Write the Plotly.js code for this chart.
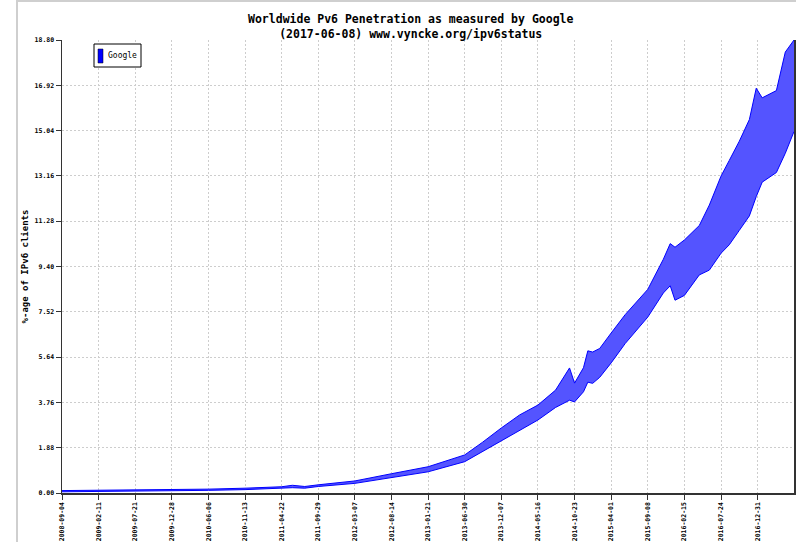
<!DOCTYPE html>
<html>
<head>
<meta charset="utf-8">
<script src="https://cdn.plot.ly/plotly-3.0.1.min.js"></script>
<style>
html,body{margin:0;padding:0;background:#fff;}
#wrap{position:relative;width:796px;height:542px;}
#chart{width:796px;height:542px;}
#frame{position:absolute;left:16px;top:0;width:780px;height:542px;border-left:2px solid #cfcfcf;border-top:2px solid #cfcfcf;pointer-events:none;box-sizing:border-box;}
</style>
</head>
<body>
<div id="wrap"><div id="chart"></div><div id="frame"></div></div>
<script>
const dates = ['2008-09-04','2009-02-11','2009-07-21','2009-12-28','2010-06-06','2010-11-13','2011-04-22','2011-06-08','2011-08-01','2011-09-29','2012-03-07','2012-08-14','2013-01-21','2013-06-30','2013-09-15','2013-12-07','2014-02-25','2014-05-16','2014-08-01','2014-10-01','2014-10-23','2014-12-01','2014-12-20','2015-01-10','2015-02-10','2015-04-01','2015-06-01','2015-09-08','2015-11-15','2015-12-15','2016-01-05','2016-02-15','2016-04-20','2016-06-03','2016-07-24','2016-08-29','2016-10-12','2016-11-25','2016-12-25','2017-01-20','2017-03-23','2017-05-01','2017-06-08'];
const lowVals = [0.05,0.06,0.07,0.09,0.11,0.14,0.19,0.22,0.20,0.27,0.40,0.63,0.88,1.30,1.72,2.15,2.61,3.03,3.55,3.85,3.78,4.20,4.60,4.55,4.80,5.40,6.20,7.30,8.30,8.60,8.00,8.20,9.05,9.25,9.95,10.30,10.90,11.50,12.30,12.90,13.30,14.10,15.00];
const highVals = [0.10,0.11,0.12,0.14,0.16,0.20,0.26,0.32,0.27,0.34,0.50,0.80,1.09,1.58,2.10,2.70,3.24,3.65,4.27,5.19,4.56,5.20,5.90,5.85,6.00,6.64,7.40,8.45,9.70,10.35,10.20,10.50,11.10,11.95,13.15,13.80,14.60,15.50,16.80,16.40,16.70,18.30,18.80];
const xTickDates = ['2008-09-04','2009-02-11','2009-07-21','2009-12-28','2010-06-06','2010-11-13','2011-04-22','2011-09-29','2012-03-07','2012-08-14','2013-01-21','2013-06-30','2013-12-07','2014-05-16','2014-10-23','2015-04-01','2015-09-08','2016-02-15','2016-07-24','2016-12-31'];
const yTickVals = [0,1.88,3.76,5.64,7.52,9.40,11.28,13.16,15.04,16.92,18.80];
const yTickText = ['0.00','1.88','3.76','5.64','7.52','9.40','11.28','13.16','15.04','16.92','18.80'];
const seriesName = 'Google';

const mono = 'DejaVu Sans Mono, Liberation Mono, monospace';
const blue = '#0000ff';

const traces = [
  {x: dates, y: lowVals, type: 'scatter', mode: 'lines', line: {color: blue, width: 1}, showlegend: false, hoverinfo: 'skip'},
  {x: dates, y: highVals, type: 'scatter', mode: 'lines', name: seriesName, line: {color: blue, width: 1},
   fill: 'tonexty', fillcolor: 'rgba(0,0,255,0.5)',
   fillpattern: {shape: '-', fgcolor: blue, bgcolor: '#a8a8ff', size: 2, solidity: 0.5},
   showlegend: false}
];

const layout = {
  width: 796, height: 542,
  margin: {l: 62, r: 2, t: 40, b: 49},
  paper_bgcolor: 'rgba(0,0,0,0)', plot_bgcolor: '#fff',
  showlegend: false,
  font: {family: mono, color: '#000'},
  title: {text: 'Worldwide Pv6 Penetration as measured by Google<br>(2017-06-08) www.vyncke.org/ipv6status',
          font: {family: mono, size: 11.5, color: '#000', weight: 'bold'},
          xref: 'container', x: 0.516, xanchor: 'center', yref: 'container', y: 0.957, yanchor: 'middle'},
  xaxis: {type: 'date', range: ['2008-09-04', '2017-06-08'],
          tickmode: 'array', tickvals: xTickDates, ticktext: xTickDates, tickangle: -90,
          tickfont: {family: mono, size: 6.5, color: '#000', weight: 'bold'},
          ticks: 'outside', ticklen: 5, tickcolor: '#333',
          showline: true, linecolor: '#333', linewidth: 1.5,
          showgrid: true, gridcolor: '#cdcdcd', griddash: '2px,2px', gridwidth: 1, zeroline: false},
  yaxis: {range: [0, 18.8], tickmode: 'array', tickvals: yTickVals, ticktext: yTickText,
          tickfont: {family: mono, size: 6.5, color: '#000', weight: 'bold'},
          ticks: 'outside', ticklen: 5, tickcolor: '#333',
          showline: true, linecolor: '#333', linewidth: 1.5, mirror: true,
          showgrid: true, gridcolor: '#cdcdcd', griddash: '2px,2px', gridwidth: 1, zeroline: false,
          title: {text: '%-age of IPv6 clients', font: {family: mono, size: 9, color: '#000', weight: 'bold'}, standoff: 4}},
  shapes: [
    {type: 'rect', xref: 'paper', yref: 'paper', x0: (94-62)/732, x1: (141-62)/732, y0: 1-(44-40)/453, y1: 1-(67-40)/453, line: {color: '#000', width: 1}, fillcolor: '#fff'},
    {type: 'rect', xref: 'paper', yref: 'paper', x0: (98-62)/732, x1: (103-62)/732, y0: 1-(49-40)/453, y1: 1-(63-40)/453, line: {color: '#000', width: 0.5}, fillcolor: blue}
  ],
  annotations: [
    {text: seriesName, xref: 'paper', yref: 'paper', x: (106-62)/732, y: 1-(56-40)/453, xanchor: 'left', yanchor: 'middle', showarrow: false,
     font: {family: mono, size: 8, color: '#000'}}
  ]
};

Plotly.newPlot('chart', traces, layout, {displayModeBar: false, staticPlot: true});
</script>
</body>
</html>
